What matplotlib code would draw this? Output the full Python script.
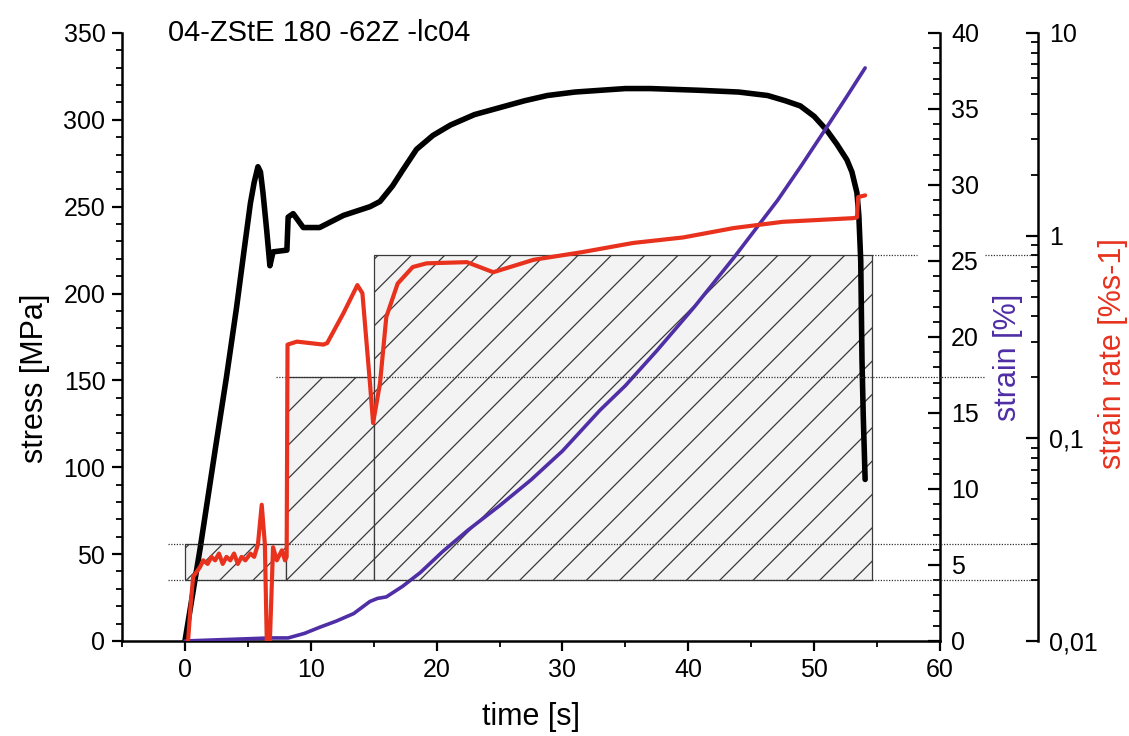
import matplotlib
matplotlib.use('Agg')
import matplotlib.pyplot as plt
from matplotlib.patches import Rectangle
from matplotlib.ticker import MultipleLocator, LogLocator, NullFormatter

plt.rcParams['font.family'] = ['Liberation Sans', 'DejaVu Sans']
plt.rcParams['hatch.linewidth'] = 0.9

# stress curve (time [s], stress [MPa])
t_stress = [0, 1.2, 2.4, 3.3, 4.1, 4.7, 5.2, 5.5, 5.8, 6.0, 6.2, 6.5, 6.75, 7.0,
            8.1, 8.2, 8.6, 9.4, 10.7, 12.6, 14.7, 15.5, 16.5, 17.3, 18.4, 19.7,
            21.1, 23, 25, 27, 28.8, 31, 33, 35, 37, 40.9, 44, 46.3, 47.7, 48.9,
            50, 51, 51.8, 52.6, 53.0, 53.4, 53.55, 53.7, 53.8, 53.9, 54.05]
stress = [0, 53, 110, 152, 192, 225, 252, 264, 273, 270, 258, 236, 216, 224,
          225, 244, 246, 238, 238, 245, 250, 253, 262, 271, 283, 291,
          297, 303, 307, 311, 314, 316, 317, 318, 318, 317, 316, 314, 311, 308,
          302, 294, 286, 277, 270, 258, 245, 219, 162, 130, 93]

# strain curve (time [s], strain [%])
t_strain = [0, 6.8, 8.2, 9.5, 10.7, 12.0, 13.4, 14.7, 15.3, 16.0, 17.3, 18.7,
            20.5, 22.5, 25, 27.5, 30, 33, 35, 37.5, 40.5, 43.6, 47.1, 49, 51,
            52.5, 54.05]
strain = [0, 0.2, 0.2, 0.5, 0.9, 1.3, 1.8, 2.6, 2.8, 2.9, 3.6, 4.5,
          5.9, 7.3, 8.9, 10.6, 12.5, 15.2, 16.8, 19.1, 22.0, 25.2, 29, 31.3, 33.8,
          35.7, 37.7]

# strain rate curve (time [s], strain rate [%/s])
t_rate = [0.25, 0.45, 0.65, 1.2, 1.45, 1.8, 2.1, 2.4, 2.7, 3.0, 3.3, 3.6, 3.9,
          4.2, 4.5, 4.8, 5.2, 5.5, 5.8, 6.1, 6.35, 6.5, 6.75, 7.0, 7.3, 7.7,
          7.95, 8.08, 8.15, 8.9, 11.0, 11.3, 12.6, 13.7, 14.1, 14.7, 14.95,
          15.5, 16.0, 16.9, 18.1, 19.2, 22.4, 24.5, 27.7, 31.6, 35.6, 39.6,
          43.6, 47.5, 53.1, 53.4, 53.5, 54.05]
rate = [0.0101, 0.015, 0.0207, 0.0232, 0.025, 0.024, 0.026, 0.025, 0.027,
        0.024, 0.026, 0.025, 0.027, 0.024, 0.026, 0.025, 0.027, 0.026, 0.030,
        0.047, 0.030, 0.0101, 0.0101, 0.029, 0.025, 0.028, 0.025, 0.026, 0.29,
        0.30, 0.29, 0.295, 0.415, 0.57, 0.52, 0.187, 0.119, 0.187, 0.397,
        0.58, 0.70, 0.73, 0.74, 0.66, 0.76, 0.83, 0.92, 0.98, 1.09, 1.17,
        1.22, 1.23, 1.55, 1.58]

# hatched ranges (t_start, t_end, rate_low, rate_high)
box_t0 = [0, 8, 15]
box_t1 = [8, 15, 54.6]
box_lo = [0.02, 0.02, 0.02]
box_hi = [0.03, 0.2, 0.8]

black = 'black'
red = '#e8321e'
purple = '#4f2ea6'

fig = plt.figure(figsize=(11.29, 7.36), dpi=100)
ax = fig.add_axes([0.1081, 0.1291, 0.7245, 0.8261])
ax2 = ax.twinx()
ax3 = ax.twinx()
ax3.spines['right'].set_position(('axes', 1.1198))

ax.plot(t_stress, stress, color=black, lw=4, zorder=3, solid_capstyle='round',
        solid_joinstyle='round')
ax2.plot(t_strain, strain, color=purple, lw=2.6, solid_capstyle='round')
ax3.plot(t_rate, rate, color=red, lw=3, solid_capstyle='round', solid_joinstyle='round')

ax.set_xlim(-5, 60)
ax.set_ylim(0, 350)
ax2.set_ylim(0, 40)
ax3.set_yscale('log')
ax3.set_ylim(0.01, 10)

# hatched boxes, drawn in the stress axes but using the strain rate scale
for x0, x1, lo, hi in zip(box_t0, box_t1, box_lo, box_hi):
    r = Rectangle((x0, lo), x1 - x0, hi - lo, transform=ax3.transData,
                  facecolor='#f3f3f3', edgecolor='#3a3a3a', hatch='/', lw=0.9,
                  zorder=1)
    ax.add_patch(r)

dots = dict(color='#333333', lw=0.9, ls=(0, (1, 1.2)), clip_on=False, zorder=0)
ax3.plot([-1.35, 67.6], [0.03, 0.03], **dots)
ax3.plot([-1.35, 67.6], [0.02, 0.02], **dots)
ax3.plot([7.2, 63.6], [0.2, 0.2], **dots)
ax3.plot([54.6, 58.2], [0.8, 0.8], **dots)
ax3.plot([63.6, 67.6], [0.8, 0.8], **dots)

# spines
for s in ['top', 'right']:
    ax.spines[s].set_visible(False)
for a in [ax2, ax3]:
    for s in ['top', 'left', 'bottom']:
        a.spines[s].set_visible(False)
for a, s in [(ax, 'left'), (ax, 'bottom'), (ax2, 'right'), (ax3, 'right')]:
    a.spines[s].set_linewidth(1.8)

ax.xaxis.set_major_locator(MultipleLocator(10))
ax.xaxis.set_minor_locator(MultipleLocator(5))
ax.yaxis.set_major_locator(MultipleLocator(50))
ax.yaxis.set_minor_locator(MultipleLocator(10))
ax.tick_params(which='major', direction='out', length=7, width=1.6, labelsize=18, pad=5)
ax.tick_params(which='minor', direction='out', length=4, width=1.3)

ax2.yaxis.set_major_locator(MultipleLocator(5))
ax2.yaxis.set_minor_locator(MultipleLocator(1))
ax2.tick_params(which='major', direction='in', length=9, width=1.6, labelsize=18, pad=8)
ax2.tick_params(which='minor', direction='in', length=5, width=1.3)

ax3.set_yticks([0.01, 0.1, 1, 10], ['0,01', '0,1', '1', '10'])
ax3.yaxis.set_minor_locator(LogLocator(base=10, subs=range(2, 10)))
ax3.yaxis.set_minor_formatter(NullFormatter())
ax3.tick_params(which='major', direction='in', length=9, width=1.6, labelsize=18, pad=8)
ax3.tick_params(which='minor', direction='in', length=5, width=1.3)

fig.text(0.470, 0.026, 'time [s]', fontsize=22, ha='center', va='center')
fig.text(0.031, 0.486, 'stress [MPa]', fontsize=22, ha='center', va='center',
         rotation=90)
fig.text(0.893, 0.515, 'strain [%]', fontsize=22, ha='center', va='center',
         rotation=90, color=purple)
fig.text(0.986, 0.520, 'strain rate [%s-1]', fontsize=22, ha='center',
         va='center', rotation=90, color=red)

ax.text(0.056, 1.0, '04-ZStE 180 -62Z -lc04', transform=ax.transAxes,
        fontsize=21, va='center', ha='left')

fig.savefig('out.png', dpi=100)
